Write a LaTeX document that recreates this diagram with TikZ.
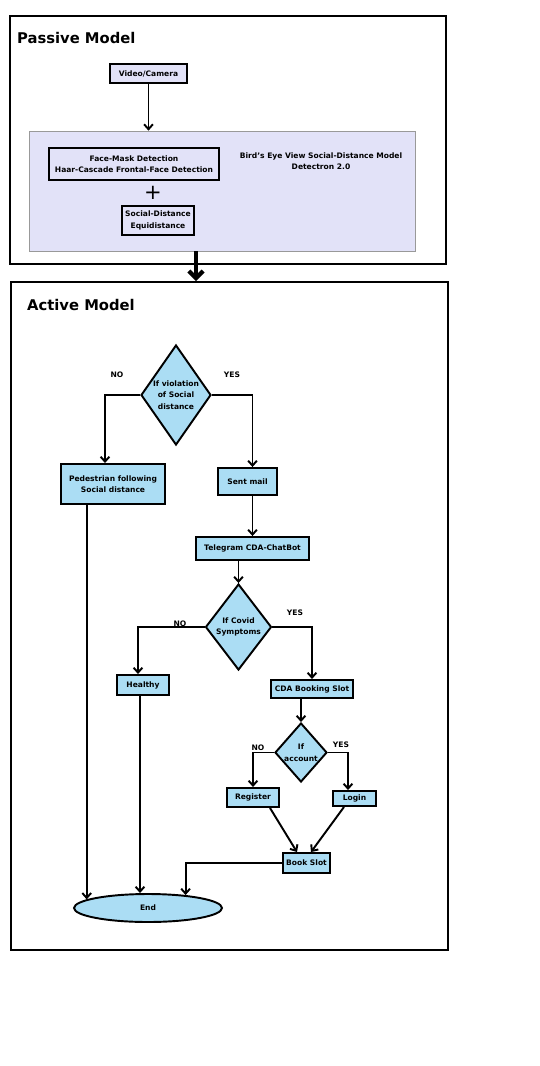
\documentclass[tikz,border=0pt]{standalone}
\usepackage{fontspec}
\setmainfont{DejaVu Sans}
\usetikzlibrary{shapes.geometric,arrows.meta,calc}
\definecolor{lavbox}{HTML}{E2E2F8}
\definecolor{flowblue}{HTML}{ABDDF4}
\begin{document}
\begin{tikzpicture}[x=0.02cm,y=-0.02cm,
  every node/.style={font=\fontsize{4.3}{6.6}\selectfont\bfseries},
  procbox/.style={draw,line width=1.1pt,fill=flowblue,inner sep=0pt,align=center},
  inbox/.style={draw,line width=0.9pt,fill=lavbox,inner sep=0pt,align=center},
  decision/.style={diamond,draw,line width=1.1pt,fill=flowblue,inner sep=0pt},
  frame/.style={draw,line width=1.2pt,inner sep=0pt},
  flow/.style={line width=1.1pt,-{Straight Barb[length=2.8pt,width=5pt]}},
  title/.style={anchor=west,font=\fontsize{8.4}{10}\selectfont\bfseries},
  answer/.style={font=\fontsize{4.3}{5}\selectfont\bfseries}]
	\useasboundingbox[fill=white] (0,0) rectangle (540,1066);
	% passive model
	\node[frame,minimum width=8.72cm,minimum height=4.96cm] (passive) at (228,140) {};
	\node[title] (ptitle) at (11,38) {Passive Model};
	\node[inbox,minimum width=1.54cm,minimum height=0.38cm] (video) at (148.5,73.5) {Video/Camera};
	\node[draw=black!40,line width=0.4pt,fill=lavbox,minimum width=7.72cm,minimum height=2.4cm] (panel) at (222,191) {};
	\node[inbox,minimum width=3.4cm,minimum height=0.64cm] (facemask) at (134,164) {Face-Mask Detection\\Haar-Cascade Frontal-Face Detection};
	\node[font=\fontsize{12}{12}\selectfont] (plus) at (153,193) {+};
	\node[inbox,minimum width=1.44cm,minimum height=0.58cm] (socdist) at (158,220.5) {Social-Distance\\Equidistance};
	\node[align=center] (birdseye) at (321,161) {Bird's Eye View Social-Distance Model\\Detectron 2.0};
	\draw[flow] (video.south) -- (video.south |- panel.north);
	% active model
	\node[frame,minimum width=8.74cm,minimum height=13.36cm] (active) at (229.5,616) {};
	\node[title] (atitle) at (21,305) {Active Model};
	\coordinate (handoff) at ($(panel.south)+(-26,0)$);
	\draw[line width=2.4pt,-{Straight Barb[length=4pt,width=8pt]}] (handoff) -- (handoff |- active.north);
	\node[decision,minimum width=1.4cm,minimum height=2cm,
		label={[align=center,name=d1text]center:If violation\\of Social\\distance}] (violation) at (176,395) {};
	\node[procbox,minimum width=2.08cm,minimum height=0.8cm] (pedestrian) at (113,484) {Pedestrian following\\Social distance};
	\node[procbox,minimum width=1.18cm,minimum height=0.54cm] (sentmail) at (247.5,481.5) {Sent mail};
	\node[procbox,minimum width=2.26cm,minimum height=0.46cm] (telegram) at (252.5,548.5) {Telegram CDA-ChatBot};
	\node[decision,minimum width=1.32cm,minimum height=1.72cm,
		label={[align=center,name=d2text]center:If Covid\\Symptoms}] (covid) at (238.5,627) {};
	\node[procbox,minimum width=1.04cm,minimum height=0.4cm] (healthy) at (143,685) {Healthy};
	\node[procbox,minimum width=1.64cm,minimum height=0.36cm] (booking) at (312,689) {CDA Booking Slot};
	\node[decision,minimum width=1.04cm,minimum height=1.18cm,
		label={[align=center,name=d3text]center:If\\account}] (account) at (301,752.5) {};
	\node[procbox,minimum width=1.04cm,minimum height=0.38cm] (register) at (253,797.5) {Register};
	\node[procbox,minimum width=0.86cm,minimum height=0.3cm] (login) at (354.5,798.5) {Login};
	\node[procbox,minimum width=0.94cm,minimum height=0.4cm] (bookslot) at (306.5,863) {Book Slot};
	\node[ellipse,draw,line width=1.1pt,fill=flowblue,inner sep=0pt,minimum width=2.96cm,minimum height=0.56cm] (end) at (148,908) {End};
	% yes / no
	\node[answer] (no1) at (117,375) {NO};
	\node[answer] (yes1) at (232,375) {YES};
	\node[answer] (no2) at (180,624) {NO};
	\node[answer] (yes2) at (295,613) {YES};
	\node[answer] (no3) at (258,748) {NO};
	\node[answer] (yes3) at (341,745) {YES};
	% connectors
	\coordinate (healthyout) at ($(healthy.south)+(-3,0)$);
	\draw[flow] (violation.west) -| ($(pedestrian.north)+(-8,0)$);
	\draw[flow] (violation.east) -| (sentmail.north -| telegram.north);
	\draw[flow] (sentmail.south -| telegram.north) -- (telegram.north);
	\draw[flow] ($(telegram.south)+(-14,0)$) -- (covid.north);
	\draw[flow] (covid.west) -| ($(healthy.north)+(-5,0)$);
	\draw[flow] (covid.east) -| (booking.north);
	\draw[flow] (booking.south -| account.north) -- (account.north);
	\draw[flow] (account.west) -| (register.north);
	\draw[flow] (account.east) -| ($(login.north)+(-6.5,0)$);
	\draw[flow] ($(register.south)+(17,0)$) -- ($(bookslot.north)+(-9.5,0)$);
	\draw[flow] ($(login.south)+(-10.5,0)$) -- ($(bookslot.north)+(4.5,0)$);
	\draw[flow] (bookslot.west) -| (end.19);
	\draw[flow] (pedestrian.south -| end.172) -- (end.172);
	\draw[flow] (healthyout) -- (healthyout |- end.north);
\end{tikzpicture}
\end{document}
